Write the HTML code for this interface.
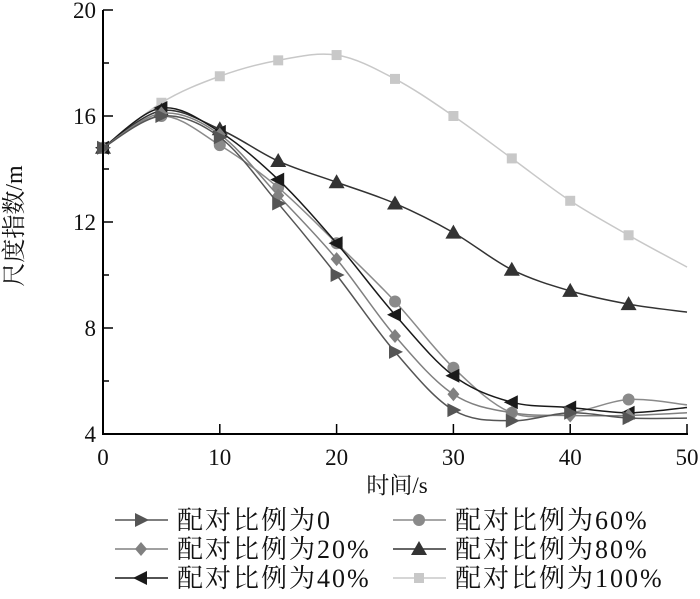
<!DOCTYPE html>
<html><head><meta charset="utf-8"><style>
body{margin:0;background:#fff}
svg text{font-family:"Liberation Serif","Noto Serif CJK SC",serif;fill:#111}
</style></head><body>
<svg id="chart" width="700" height="594" xmlns="http://www.w3.org/2000/svg">
<g id="plot"></g>
</svg>
<script>
const times=[0,5,10,15,20,25,30,35,40,45,50];
const s0=[14.8,16.0,15.2,12.7,10.0,7.1,4.9,4.5,4.8,4.6,4.6];
const s20=[14.8,16.1,15.3,13.0,10.6,7.7,5.5,4.8,4.7,4.7,4.8];
const s40=[14.8,16.3,15.4,13.6,11.2,8.5,6.2,5.2,5.0,4.8,5.0];
const s60=[14.8,16.0,14.9,13.3,11.2,9.0,6.5,4.8,4.8,5.3,5.1];
const s80=[14.8,16.2,15.5,14.3,13.5,12.7,11.6,10.2,9.4,8.9,8.6];
const s100=[14.8,16.5,17.5,18.1,18.3,17.4,16.0,14.4,12.8,11.5,10.3];
const seriesNames=["配对比例为0","配对比例为20%","配对比例为40%","配对比例为60%","配对比例为80%","配对比例为100%"];
const xTicks=[0,10,20,30,40,50];
const yTicks=[4,8,12,16,20];
const yMinor=[6,10,14,18];

const NS="http://www.w3.org/2000/svg";
const svg=document.getElementById('chart');
const X=v=>103+v*(584/50);
const Y=v=>434-(v-4)*26.5;
function mk(tag,attrs,parent){const e=document.createElementNS(NS,tag);for(const k in attrs)e.setAttribute(k,attrs[k]);(parent||svg).appendChild(e);return e;}

const series=[
 {d:s0,c:"#555",m:"tr",n:"series-ratio-0"},
 {d:s20,c:"#808080",m:"dia",n:"series-ratio-20"},
 {d:s40,c:"#1a1a1a",m:"tl",n:"series-ratio-40"},
 {d:s60,c:"#8a8a8a",m:"circ",n:"series-ratio-60"},
 {d:s80,c:"#333",m:"tu",n:"series-ratio-80"},
 {d:s100,c:"#c8c8c8",m:"sq",n:"series-ratio-100"}];

function marker(type,x,y,c,parent){
 let e;
 if(type==="circ")e=mk('circle',{cx:x,cy:y,r:6,fill:c},parent);
 else if(type==="sq")e=mk('rect',{x:x-5,y:y-5,width:10,height:10,fill:c},parent);
 else{let p;
  if(type==="tr")p=[[x+8,y],[x-6,y-7],[x-6,y+7]];
  if(type==="tl")p=[[x-8,y],[x+6,y-7],[x+6,y+7]];
  if(type==="tu")p=[[x,y-8],[x-8,y+6],[x+8,y+6]];
  if(type==="dia")p=[[x,y-7],[x+6,y],[x,y+7],[x-6,y]];
  e=mk('polygon',{points:p.map(q=>q.join(',')).join(' '),fill:c},parent);}
 
 
}
function smooth(pts){
 let d="M"+pts[0][0]+","+pts[0][1];
 for(let i=0;i<pts.length-1;i++){
  const p0=pts[i-1]||pts[i],p1=pts[i],p2=pts[i+1],p3=pts[i+2]||p2;
  const c1=[p1[0]+(p2[0]-p0[0])/6,p1[1]+(p2[1]-p0[1])/6];
  const c2=[p2[0]-(p3[0]-p1[0])/6,p2[1]-(p3[1]-p1[1])/6];
  d+=" C"+c1+" "+c2+" "+p2;}
 return d;}

series.slice().reverse().forEach(s=>{
 const g=mk('g',{});
 
 
 const pts=times.map((t,i)=>[X(t),Y(s.d[i])]);
 mk('path',{d:smooth(pts),fill:"none",stroke:s.c,"stroke-width":1.5},g);
 times.forEach((t,i)=>{if(t<50)marker(s.m,X(t),Y(s.d[i]),s.c,g);});
});

// axes
const ax=mk('g',{});


mk('line',{x1:103,y1:10,x2:103,y2:435,stroke:"#000","stroke-width":2},ax);
mk('line',{x1:102,y1:434,x2:688,y2:434,stroke:"#000","stroke-width":2},ax);
xTicks.forEach(t=>{
 mk('line',{x1:X(t),y1:434,x2:X(t),y2:424,stroke:"#000","stroke-width":1.5},ax);
 const tx=mk('text',{x:X(t),y:465,"text-anchor":"middle","font-size":23},ax);tx.textContent=t;
 
 
});
yTicks.forEach(t=>{
 mk('line',{x1:103,y1:Y(t),x2:113,y2:Y(t),stroke:"#000","stroke-width":1.5},ax);
 const tx=mk('text',{x:96,y:Y(t)+8,"text-anchor":"end","font-size":23},ax);tx.textContent=t;
 
 
});
yMinor.forEach(t=>mk('line',{x1:103,y1:Y(t),x2:109,y2:Y(t),stroke:"#000","stroke-width":1.5},ax));
const xt=mk('text',{x:397,y:493,"text-anchor":"middle","font-size":23},ax);xt.textContent="时间/s";


const yt=mk('text',{x:0,y:0,"text-anchor":"middle","font-size":24,transform:"translate(22,226) rotate(-90)"},ax);yt.textContent="尺度指数/m";



// legend
const lg=mk('g',{});


series.forEach((s,i)=>{
 const col=Math.floor(i/3),row=i%3;
 const lx=col?393:115, ly=520+row*29;
 const e=mk('g',{},lg);
 
 
 mk('line',{x1:lx,y1:ly,x2:lx+53,y2:ly,stroke:s.c,"stroke-width":1.5},e);
 marker(s.m,lx+26,ly,s.c,e);
 const t=mk('text',{x:lx+62,y:ly+9,"font-size":26,"letter-spacing":2},e);t.textContent=seriesNames[i];
});
</script>
</body></html>
